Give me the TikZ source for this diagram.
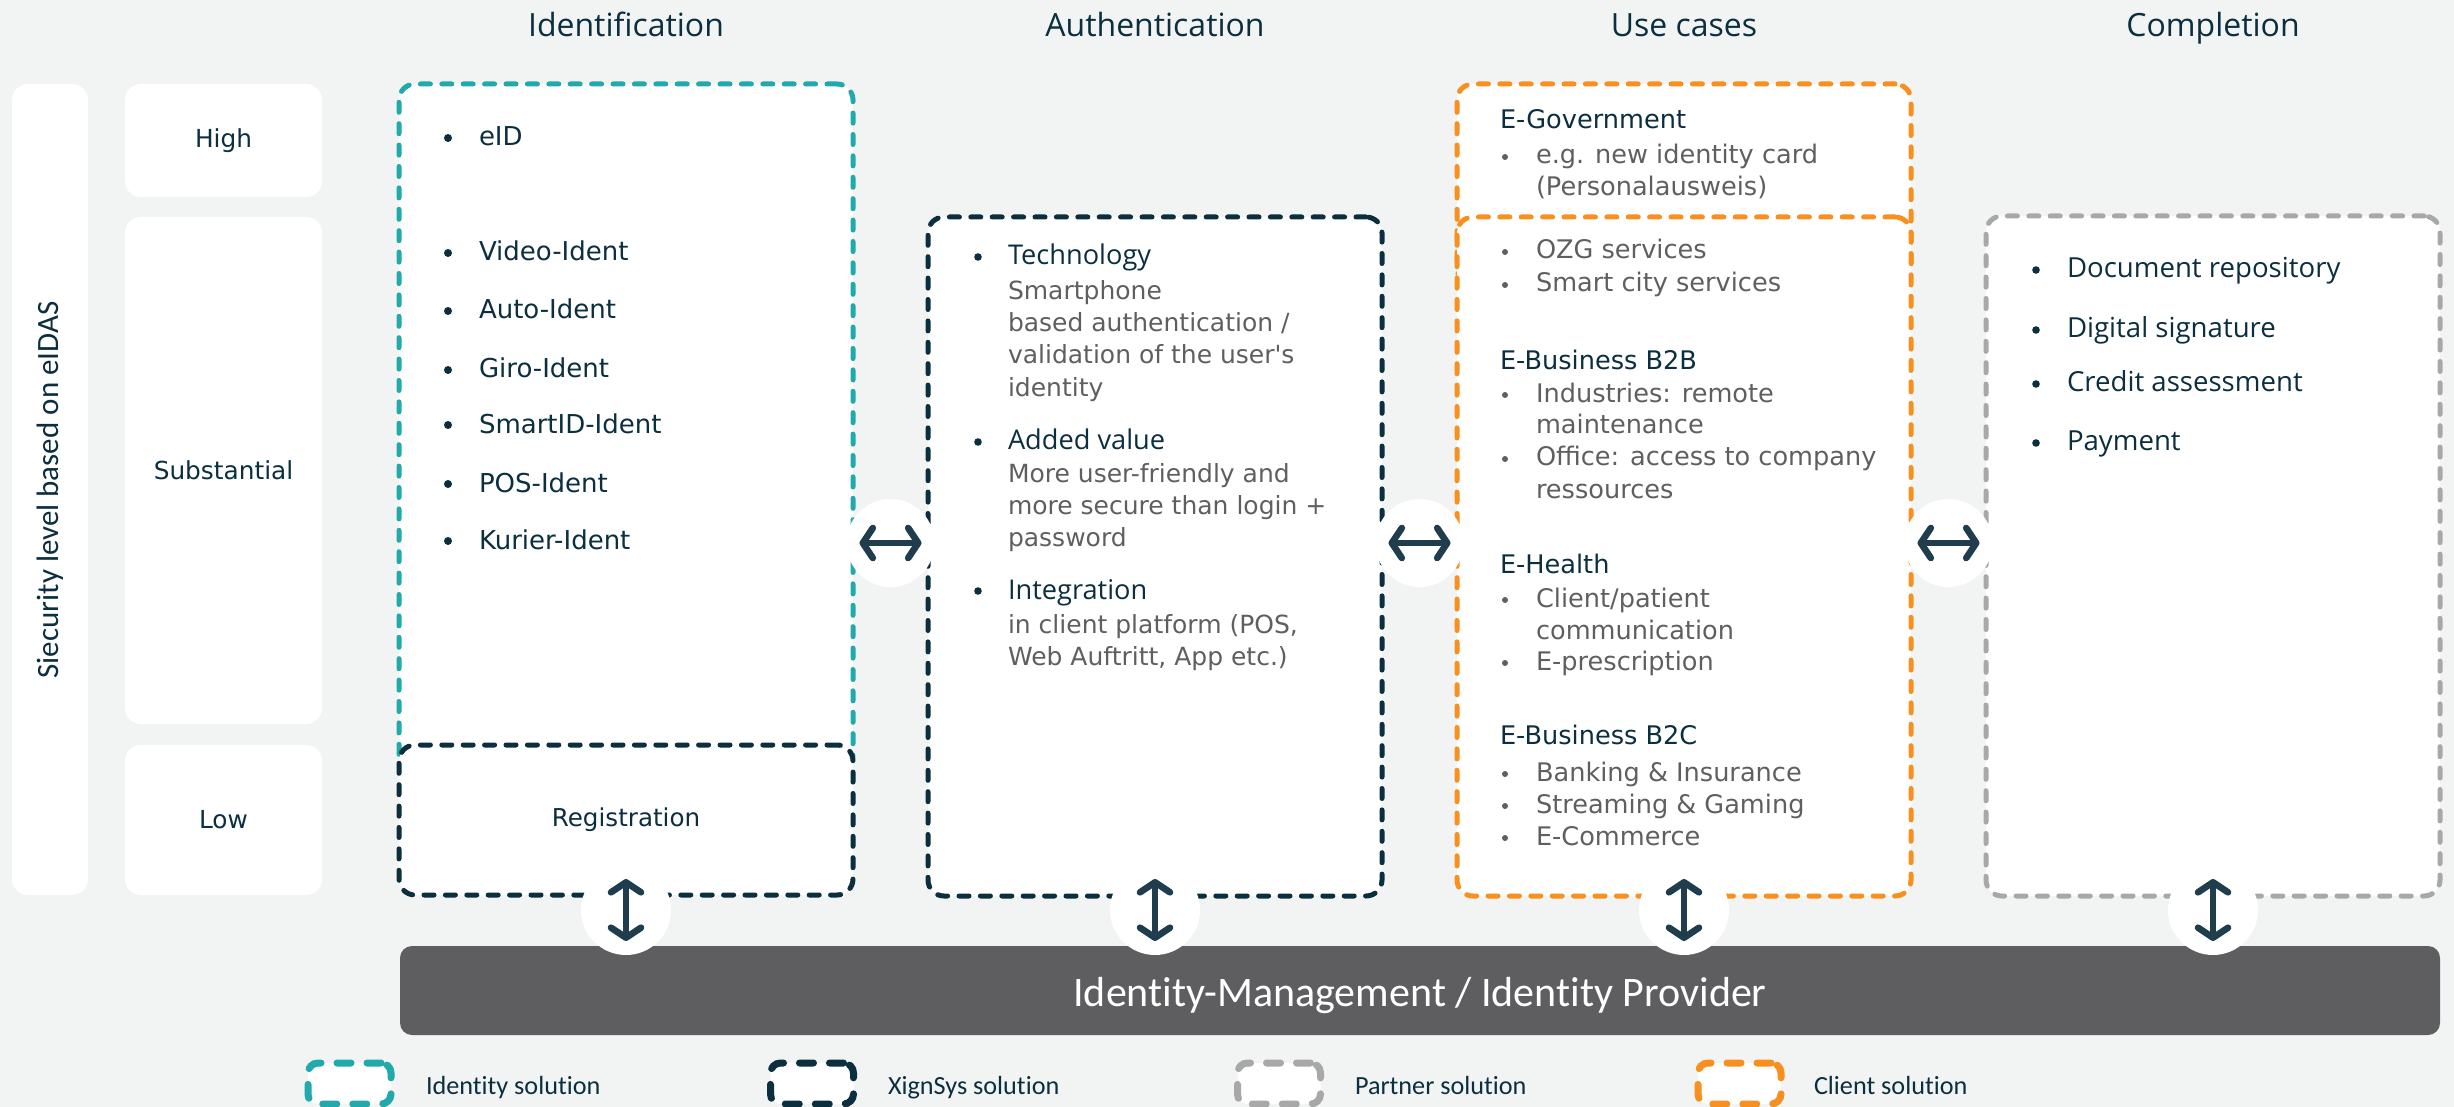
\documentclass[tikz,border=0pt]{standalone}
\usepackage{fontspec}
\setmainfont{DejaVu Sans}
\newfontfamily\osans{Open Sans}
\newfontfamily\carl[RawFeature={-liga;-clig;-calt;-dlig}]{Carlito}
\usetikzlibrary{arrows.meta}
\definecolor{bgc}{HTML}{F2F4F3}
\definecolor{navy}{HTML}{0B2F3F}
\definecolor{tealc}{HTML}{21A9AB}
\definecolor{orangec}{HTML}{F7901E}
\definecolor{gborder}{HTML}{A8A8A8}
\definecolor{barc}{HTML}{5E5E60}
\definecolor{arrowc}{HTML}{1F3D4C}
\definecolor{gtext}{HTML}{5F5F5F}
\tikzset{
 wbox/.style={fill=white, rounded corners=8pt, inner sep=0pt, outer sep=0pt},
 sz/.style 2 args={minimum width=#1*0.5pt, minimum height=#2*0.5pt},
 dsh/.style={line width=2.5pt, dash pattern=on 5pt off 5.7pt, line cap=round},
 ln/.style={anchor=base west, inner sep=0pt, outer sep=0pt},
 hd/.style={anchor=base, inner sep=0pt, font=\osans\fontsize{16}{19}\selectfont, text=navy},
 lvl/.style={font=\fontsize{12.4}{15}\selectfont, text=navy},
 idt/.style={ln, font=\fontsize{13}{16}\selectfont, text=navy},
 ath/.style={ln, font=\osans\fontsize{13.6}{16}\selectfont, text=navy},
 atd/.style={ln, font=\fontsize{12.5}{16}\selectfont, text=gtext},
 uch/.style={ln, font=\fontsize{12.8}{16}\selectfont, text=navy},
 uci/.style={ln, font=\fontsize{12.8}{16}\selectfont, text=gtext},
 cpl/.style={ln, font=\osans\fontsize{13.8}{16}\selectfont, text=navy},
 lgd/.style={ln, font=\carl\fontsize{13.1}{16}\selectfont, text=navy},
 circ/.style={circle, fill=white, inner sep=0pt, outer sep=0pt, minimum size=#1*0.5pt},
 arr/.style={line width=3.3pt, draw=arrowc, <->, >={Straight Barb[length=5pt,width=15pt,round]}},
 lgicon/.style={fill=white, rounded corners=5pt, line width=3.5pt, dash pattern=on 7pt off 8pt, line cap=round, minimum width=41.5pt, minimum height=20.5pt, inner sep=0pt},
}
\begin{document}
\begin{tikzpicture}[x=0.5pt,y=-0.5pt]
\fill[bgc] (0,0) rectangle (2454,1107);
\useasboundingbox (0,0) rectangle (2454,1107);

% headings
\node[hd] (h1) at (626,37) {Identification};
\node[hd] (h2) at (1155,37) {Authentication};
\node[hd] (h3) at (1684,37) {Use cases};
\node[hd] (h4) at (2213,37) {Completion};

% security level column
\node[wbox, sz={76}{811}] (secbar) at (50,489.5) {};
\node[rotate=90, inner sep=0pt, font=\carl\fontsize{15.5}{18}\selectfont, text=navy] (seclbl) at (50,490) {Siecurity level based on eIDAS};
\node[wbox, sz={197}{113}, lvl] (high) at (223.5,140.5) {High};
\node[wbox, sz={197}{507}, lvl] (subst) at (223.5,470.5) {Substantial};
\node[wbox, sz={197}{150}, lvl] (low) at (223.5,820) {Low};

% boxes
\node[wbox, sz={454}{686}, draw=tealc, dsh] (ident) at (626,427) {};
\node[wbox, sz={454}{150}, draw=navy, dsh, font=\fontsize{12.3}{15}\selectfont, text=navy] (reg) at (626,820) {Registration};
\node[wbox, sz={454}{679}, draw=navy, dsh] (auth) at (1155,556.5) {};
\node[wbox, sz={454}{200}, draw=orangec, dsh] (egov) at (1684,184) {};
\node[wbox, sz={454}{679}, draw=orangec, dsh] (uc) at (1684,556.5) {};
\node[wbox, sz={454}{680}, draw=gborder, dsh] (compl) at (2213,556) {};

% bottom bar
\node[fill=barc, rounded corners=6pt, sz={2040}{89}, inner sep=0pt] (idp) at (1420,990.5) {};
\node[anchor=base, inner sep=0pt, font=\carl\fontsize{21}{25}\selectfont, text=white] (idptxt) at (1420,1006) {Identity-Management / Identity Provider};

% identification list
\foreach \y in {146,261,319,378,433,492,549} \fill[navy] (448,\y-8) circle (2pt);
\node[idt] (i1) at (479,146) {eID};
\node[idt] (i2) at (479,261) {Video-Ident};
\node[idt] (i3) at (479,319) {Auto-Ident};
\node[idt] (i4) at (479,378) {Giro-Ident};
\node[idt] (i5) at (479,433) {SmartID-Ident};
\node[idt] (i6) at (479,492) {POS-Ident};
\node[idt] (i7) at (479,549) {Kurier-Ident};

% authentication
\foreach \y in {265,450,599} \fill[navy] (978,\y-8) circle (1.9pt);
\node[ath] (a1) at (1008,265) {Technology};
\node[atd] (a1a) at (1008,300) {Smartphone};
\node[atd] (a1b) at (1008,332) {based authentication /};
\node[atd] (a1c) at (1008,364) {validation of the user\textquotesingle s};
\node[atd] (a1d) at (1008,397) {identity};
\node[ath] (a2) at (1008,450) {Added value};
\node[atd] (a2a) at (1008,482) {More user-friendly and};
\node[atd] (a2b) at (1008,514) {more secure than login +};
\node[atd] (a2c) at (1008,546) {password};
\node[ath] (a3) at (1008,599) {Integration};
\node[atd] (a3a) at (1008,633) {in client platform (POS,};
\node[atd] (a3b) at (1008,665) {Web Auftritt, App etc.)};

% use cases
\foreach \y in {164,259,292,402,466,607,670,781,813,845} \fill[gtext] (1505,\y-7) circle (1.5pt);
\node[uch] (u1) at (1500,129) {E-Government};
\node[uci] (u1a) at (1536,164) {e.g. new identity card};
\node[uci] (u1b) at (1536,196) {(Personalausweis)};
\node[uci] (u1c) at (1536,259) {OZG services};
\node[uci] (u1d) at (1536,292) {Smart city services};
\node[uch] (u2) at (1500,370) {E-Business B2B};
\node[uci] (u2a) at (1536,402) {Industries: remote};
\node[uci] (u2b) at (1536,434) {maintenance};
\node[uci] (u2c) at (1536,466) {Office: access to company};
\node[uci] (u2d) at (1536,498) {ressources};
\node[uch] (u3) at (1500,573) {E-Health};
\node[uci] (u3a) at (1536,607) {Client/patient};
\node[uci] (u3b) at (1536,639) {communication};
\node[uci] (u3c) at (1536,670) {E-prescription};
\node[uch] (u4) at (1500,744) {E-Business B2C};
\node[uci] (u4a) at (1536,781) {Banking \& Insurance};
\node[uci] (u4b) at (1536,813) {Streaming \& Gaming};
\node[uci] (u4c) at (1536,845) {E-Commerce};

% completion
\foreach \y in {278,338,392,451} \fill[navy] (2036,\y-8) circle (1.9pt);
\node[cpl] (c1) at (2067,278) {Document repository};
\node[cpl] (c2) at (2067,338) {Digital signature};
\node[cpl] (c3) at (2067,392) {Credit assessment};
\node[cpl] (c4) at (2067,451) {Payment};

% connector circles and arrows
\node[circ={88}] (hc1) at (890.5,543) {};
\node[circ={88}] (hc2) at (1419.5,543) {};
\node[circ={88}] (hc3) at (1948.5,543) {};
\node[circ={90}] (vc1) at (626,910) {};
\node[circ={90}] (vc2) at (1155,910) {};
\node[circ={90}] (vc3) at (1684,910) {};
\node[circ={90}] (vc4) at (2213,910) {};
\foreach \c in {hc1,hc2,hc3}
  \draw[arr] ([xshift=-15.5pt]\c.center) -- ([xshift=15.5pt]\c.center);
\foreach \c in {vc1,vc2,vc3,vc4}
  \draw[arr] ([yshift=15.5pt]\c.center) -- ([yshift=-15.5pt]\c.center);

% legend
\node[lgicon, draw=tealc] (lg1) at (349.5,1083.5) {};
\node[lgicon, draw=navy] (lg2) at (812,1083.5) {};
\node[lgicon, draw=gborder] (lg3) at (1279,1083.5) {};
\node[lgicon, draw=orangec] (lg4) at (1739.5,1083.5) {};
\node[lgd] (lt1) at (426,1094) {Identity solution};
\node[lgd] (lt2) at (888,1094) {XignSys solution};
\node[lgd] (lt3) at (1355,1094) {Partner solution};
\node[lgd] (lt4) at (1814,1094) {Client solution};
\end{tikzpicture}
\end{document}
